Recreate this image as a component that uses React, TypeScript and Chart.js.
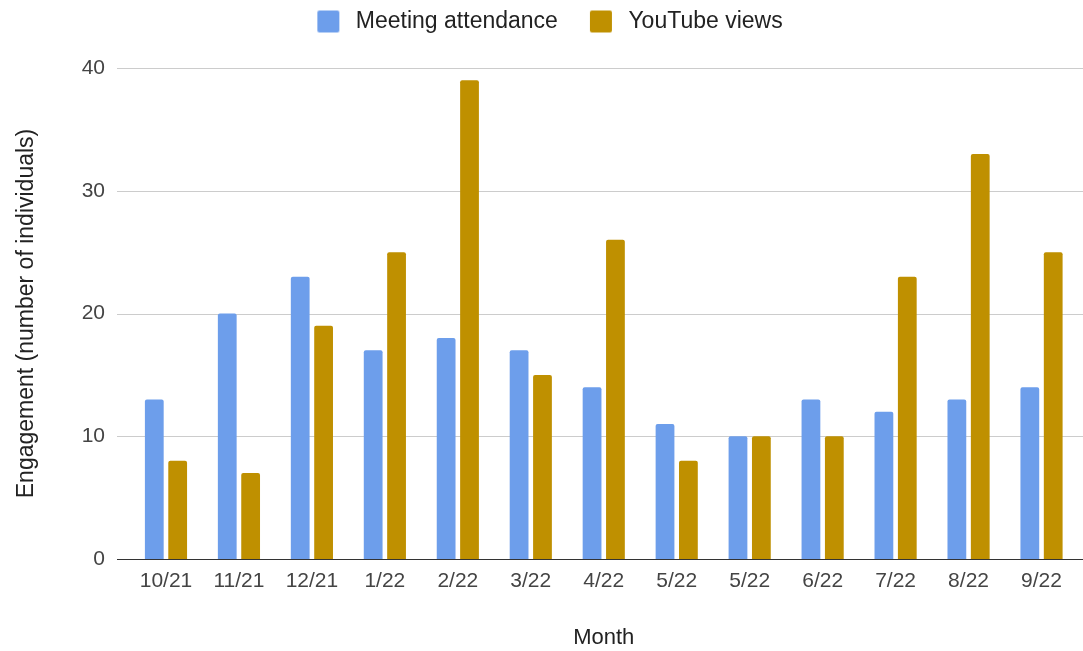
import React, { useEffect, useRef } from "react";
import { Chart, registerables } from "chart.js";

Chart.register(...registerables);

const months = ["10/21", "11/21", "12/21", "1/22", "2/22", "3/22", "4/22", "5/22", "5/22", "6/22", "7/22", "8/22", "9/22"];
const meetingAttendance = [13, 20, 23, 17, 18, 17, 14, 11, 10, 13, 12, 13, 14];
const youtubeViews = [8, 7, 19, 25, 39, 15, 26, 8, 10, 10, 23, 33, 25];
const yTicks = [0, 10, 20, 30, 40];
const seriesNames = ["Meeting attendance", "YouTube views"];
const seriesColors = ["#6d9eeb", "#bf9000"];
const xTitle = "Month";
const yTitle = "Engagement (number of individuals)";

const FONT = "'Liberation Sans', Arial, sans-serif";

function makeSwatch(color: string): HTMLCanvasElement {
  const c = document.createElement("canvas");
  c.width = 49;
  c.height = 24;
  const ctx = c.getContext("2d")!;
  ctx.fillStyle = color;
  ctx.beginPath();
  (ctx as any).roundRect(22, 1, 22, 22, 2);
  ctx.fill();
  return c;
}

export default function App() {
  const ref = useRef<HTMLCanvasElement>(null);

  useEffect(() => {
    if (!ref.current) return;
    const swatches = seriesColors.map(makeSwatch);

    const legendSpacing = {
      id: "legendSpacing",
      beforeInit(chart: any) {
        const legend = chart.legend;
        if (!legend) return;
        const origFit = legend.fit;
        legend.fit = function () {
          origFit.call(this);
          this.height = 68;
        };
      },
    };

    const gridPlugin = {
      id: "extGrid",
      beforeDatasetsDraw(chart: any) {
        const { ctx, chartArea, scales } = chart;
        const y = scales.y;
        ctx.save();
        ctx.strokeStyle = "#cccccc";
        ctx.lineWidth = 1;
        yTicks.forEach((v) => {
          if (v === 0) return;
          const py = Math.round(y.getPixelForValue(v)) + 0.5;
          ctx.beginPath();
          ctx.moveTo(chartArea.left - 12.5, py);
          ctx.lineTo(chartArea.right + 5, py);
          ctx.stroke();
        });
        ctx.restore();
      },
      afterDatasetsDraw(chart: any) {
        const { ctx, chartArea, scales } = chart;
        const py = Math.round(scales.y.getPixelForValue(0)) + 0.5;
        ctx.save();
        ctx.strokeStyle = "#333333";
        ctx.lineWidth = 1;
        ctx.beginPath();
        ctx.moveTo(chartArea.left - 12.5, py);
        ctx.lineTo(chartArea.right + 5, py);
        ctx.stroke();
        ctx.restore();
      },
    };

    const chart = new Chart(ref.current, {
      type: "bar",
      data: {
        labels: months,
        datasets: [
          {
            label: seriesNames[0],
            data: meetingAttendance,
            backgroundColor: seriesColors[0],
            borderWidth: 0,
            borderRadius: 2,
            categoryPercentage: 0.641,
            barPercentage: 0.803,
          },
          {
            label: seriesNames[1],
            data: youtubeViews,
            backgroundColor: seriesColors[1],
            borderWidth: 0,
            borderRadius: 2,
            categoryPercentage: 0.641,
            barPercentage: 0.803,
          },
        ],
      },
      options: {
        responsive: false,
        maintainAspectRatio: false,
        animation: false,
        layout: { padding: { left: 0, right: 5, top: 0, bottom: 0 } },
        plugins: {
          tooltip: { enabled: false },
          legend: {
            display: true,
            position: "top",
            align: "center",
            labels: {
              usePointStyle: true,
              pointStyleWidth: 49,
              padding: 10,
              color: "#222222",
              font: { family: FONT, size: 23 },
              generateLabels: (ch: any) =>
                (Chart.defaults.plugins.legend.labels as any)
                  .generateLabels(ch)
                  .map((it: any, i: number) => ({ ...it, pointStyle: swatches[i], lineWidth: 0 })),
            },
          },
        },
        scales: {
          x: {
            type: "category",
            offset: true,
            grid: { display: false, drawTicks: false },
            border: { display: false },
            ticks: {
              color: "#444444",
              font: { family: FONT, size: 21 },
              padding: 10,
              maxRotation: 0,
              autoSkip: false,
            },
            title: {
              display: true,
              text: xTitle,
              color: "#222222",
              font: { family: FONT, size: 22 },
              padding: { top: 0, bottom: 0 },
            },
            afterFit: (scale: any) => {
              scale.height = 92;
            },
          },
          y: {
            type: "linear",
            min: 0,
            max: 40,
            grid: { display: false, drawTicks: false },
            border: { display: false },
            afterBuildTicks: (scale: any) => {
              scale.ticks = yTicks.map((v) => ({ value: v }));
            },
            ticks: {
              color: "#444444",
              font: { family: FONT, size: 21 },
              padding: 24.5,
            },
            title: {
              display: true,
              text: yTitle,
              color: "#222222",
              font: { family: FONT, size: 23 },
              padding: { top: 13, bottom: 0 },
            },
            afterFit: (scale: any) => {
              scale.width = 129.5;
            },
          },
        },
      },
      plugins: [legendSpacing, gridPlugin],
    } as any);

    return () => chart.destroy();
  }, []);

  return (
    <div style={{ position: "fixed", left: 0, top: 0, width: 1083, height: 651, background: "#ffffff" }}>
      <canvas ref={ref} width={1083} height={651} style={{ width: 1083, height: 651, display: "block" }} />
    </div>
  );
}
